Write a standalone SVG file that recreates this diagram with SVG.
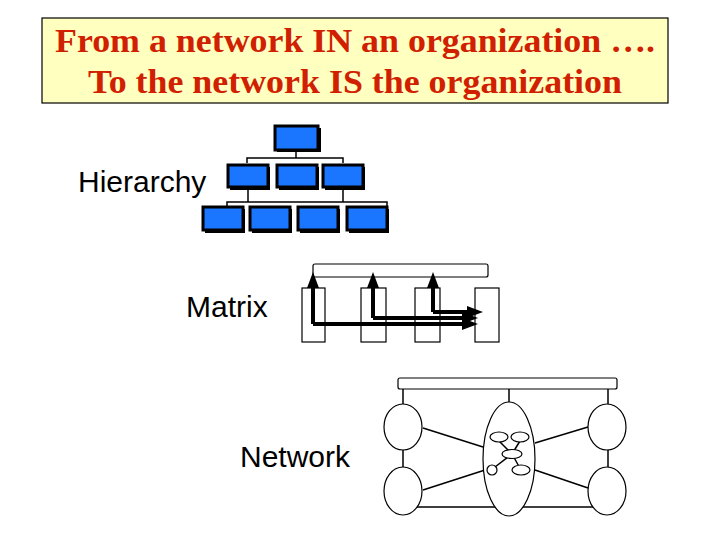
<svg xmlns="http://www.w3.org/2000/svg" width="720" height="540" viewBox="0 0 720 540">
<style>
.t{font-family:"Liberation Serif",serif;font-weight:bold;font-size:34px;fill:#d02000;text-anchor:middle}
.l{font-family:"Liberation Sans",sans-serif;font-size:30px;fill:#000}
.b{fill:#1a75ff;stroke:#000;stroke-width:3}
.s{fill:#000}
.ln{stroke:#000;stroke-width:1.5;fill:none}
.w{fill:#fff;stroke:#000;stroke-width:1.2}
.ar{stroke:#000;stroke-width:4;fill:none;marker-end:url(#ah)}
</style>
<defs>
<marker id="ah" markerWidth="4" markerHeight="4" refX="2" refY="2" orient="auto" markerUnits="strokeWidth"><path d="M0,0.5L4,2L0,3.5z" fill="#000"/></marker>
</defs>
<g id="title"><rect x="42" y="18" width="626" height="85" fill="#ffffc0" stroke="#000" stroke-width="1.2"/>
<text class="t" x="355" y="52" textLength="600" lengthAdjust="spacingAndGlyphs">From a network IN an organization ….</text>
<text class="t" x="355" y="93" textLength="534" lengthAdjust="spacingAndGlyphs">To the network IS the organization</text></g>
<g id="hierarchy">
<text class="l" x="78" y="192">Hierarchy</text>
<path class="ln" d="M247,163V158H343V163M296,150V158M227,207V202H387V207M248,189V202M343,189V202"/>
<rect class="s" x="277" y="128" width="44" height="24"/><rect class="b" x="275" y="126" width="43" height="24"/>
<rect class="s" x="230" y="167" width="40" height="23"/><rect class="b" x="228" y="165" width="40" height="22"/>
<rect class="s" x="279" y="167" width="40" height="23"/><rect class="b" x="277" y="165" width="40" height="22"/>
<rect class="s" x="325" y="167" width="40" height="23"/><rect class="b" x="323" y="165" width="40" height="22"/>
<rect class="s" x="205" y="209" width="40" height="24"/><rect class="b" x="203" y="207" width="40" height="23"/>
<rect class="s" x="252" y="209" width="40" height="24"/><rect class="b" x="250" y="207" width="40" height="23"/>
<rect class="s" x="300" y="209" width="40" height="24"/><rect class="b" x="298" y="207" width="40" height="23"/>
<rect class="s" x="349" y="209" width="40" height="24"/><rect class="b" x="347" y="207" width="40" height="23"/>
</g>
<g id="matrix">
<text class="l" x="186" y="317">Matrix</text>
<rect class="w" x="313" y="264" width="175" height="13" rx="2"/>
<rect class="w" x="302" y="288" width="23" height="54"/>
<rect class="w" x="361" y="288" width="25" height="54"/>
<rect class="w" x="415" y="288" width="25" height="54"/>
<rect class="w" x="475" y="288" width="24" height="54"/>
</g>
<g id="connectors">
<path class="ar" d="M313,324H470"/><path class="ar" d="M313,324V280"/>
<path class="ar" d="M373,318H470"/><path class="ar" d="M373,318V280"/>
<path class="ar" d="M433,312H475"/><path class="ar" d="M433,312V280"/>
<path class="ln" d="M403,389V404M509,389V402M608,389V404M403,450V468M608,450V468M403,507H607M423,428L483,447M423,490L485,470M535,443L588,427M535,470L588,488"/>
</g>
<g id="network">
<text class="l" x="240" y="467">Network</text>
<rect class="w" x="398" y="378" width="219" height="11" rx="2"/>
<ellipse class="w" cx="403" cy="427" rx="19" ry="23" stroke-width="2"/>
<ellipse class="w" cx="403" cy="491" rx="19" ry="24" stroke-width="2"/>
<ellipse class="w" cx="607" cy="427" rx="19" ry="23" stroke-width="2"/>
<ellipse class="w" cx="607" cy="491" rx="19" ry="24" stroke-width="2"/>
<ellipse class="w" cx="509" cy="459" rx="26" ry="57" stroke-width="2"/>
<path class="ln" d="M499,441L512,454M520,441L512,454M512,454L521,470M512,454L495,467"/>
<ellipse class="w" cx="499" cy="437" rx="9" ry="5" stroke-width="1.5"/>
<ellipse class="w" cx="520" cy="437" rx="9" ry="5" stroke-width="1.5"/>
<ellipse class="w" cx="512" cy="454" rx="10" ry="4.5" stroke-width="1.5"/>
<ellipse class="w" cx="521" cy="470" rx="9" ry="5" stroke-width="1.5"/>
<circle class="w" cx="492" cy="470" r="5" stroke-width="1.5"/>
</g>
</svg>
